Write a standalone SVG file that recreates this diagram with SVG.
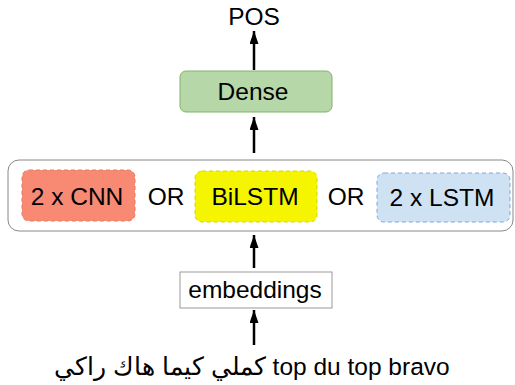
<svg xmlns="http://www.w3.org/2000/svg" width="515" height="385" viewBox="0 0 515 385">
<defs>
<marker id="ah" viewBox="0 0 13 9" refX="13" refY="4.5" markerWidth="13" markerHeight="9" markerUnits="userSpaceOnUse" orient="auto">
<path d="M0,0 L13,4.5 L0,9 z" fill="#000"/>
</marker>
</defs>
<style>
text{font-family:"Liberation Sans",Arial,sans-serif;font-size:24.5px;fill:#000;text-anchor:middle}
.dash{stroke-dasharray:4 3;stroke-width:1}
.conn{stroke:#000;stroke-width:2.5;fill:none;marker-end:url(#ah)}
</style>
<rect width="515" height="385" fill="#fff"/>
<g id="connectors">
<line class="conn" x1="254" y1="70" x2="254" y2="31"/>
<line class="conn" x1="254" y1="153" x2="254" y2="117"/>
<line class="conn" x1="254" y1="268" x2="254" y2="235"/>
<line class="conn" x1="254" y1="345" x2="254" y2="310"/>
</g>
<g id="pos"><text x="254" y="25">POS</text></g>
<g id="dense">
<rect x="180" y="71" width="152" height="41" rx="6" fill="#b6d7a8" stroke="#82b366"/>
<text x="253" y="100">Dense</text>
</g>
<g id="container">
<rect x="8" y="160" width="505" height="71" rx="11" fill="none" stroke="#888"/>
</g>
<g id="cnn">
<rect class="dash" x="22" y="170" width="113" height="51" rx="7" fill="#f88a74" stroke="#e07a66"/>
<text x="77" y="205">2 x CNN</text>
</g>
<g id="or1"><text x="166" y="205">OR</text></g>
<g id="bilstm">
<rect class="dash" x="195" y="171" width="122" height="51" rx="7" fill="#f5f500" stroke="#d6d600"/>
<text x="255" y="205">BiLSTM</text>
</g>
<g id="or2"><text x="346" y="205">OR</text></g>
<g id="lstm">
<rect class="dash" x="377" y="173" width="133" height="49" rx="7" fill="#cfe2f3" stroke="#7ea6e0"/>
<text x="442" y="206">2 x LSTM</text>
</g>
<g id="embeddings">
<rect x="180" y="272" width="152" height="36" fill="#fff" stroke="#999"/>
<text x="255" y="298">embeddings</text>
</g>
<g id="input"><text x="252" y="375" direction="ltr">كملي كيما هاك راكي top du top bravo</text></g>
</svg>
